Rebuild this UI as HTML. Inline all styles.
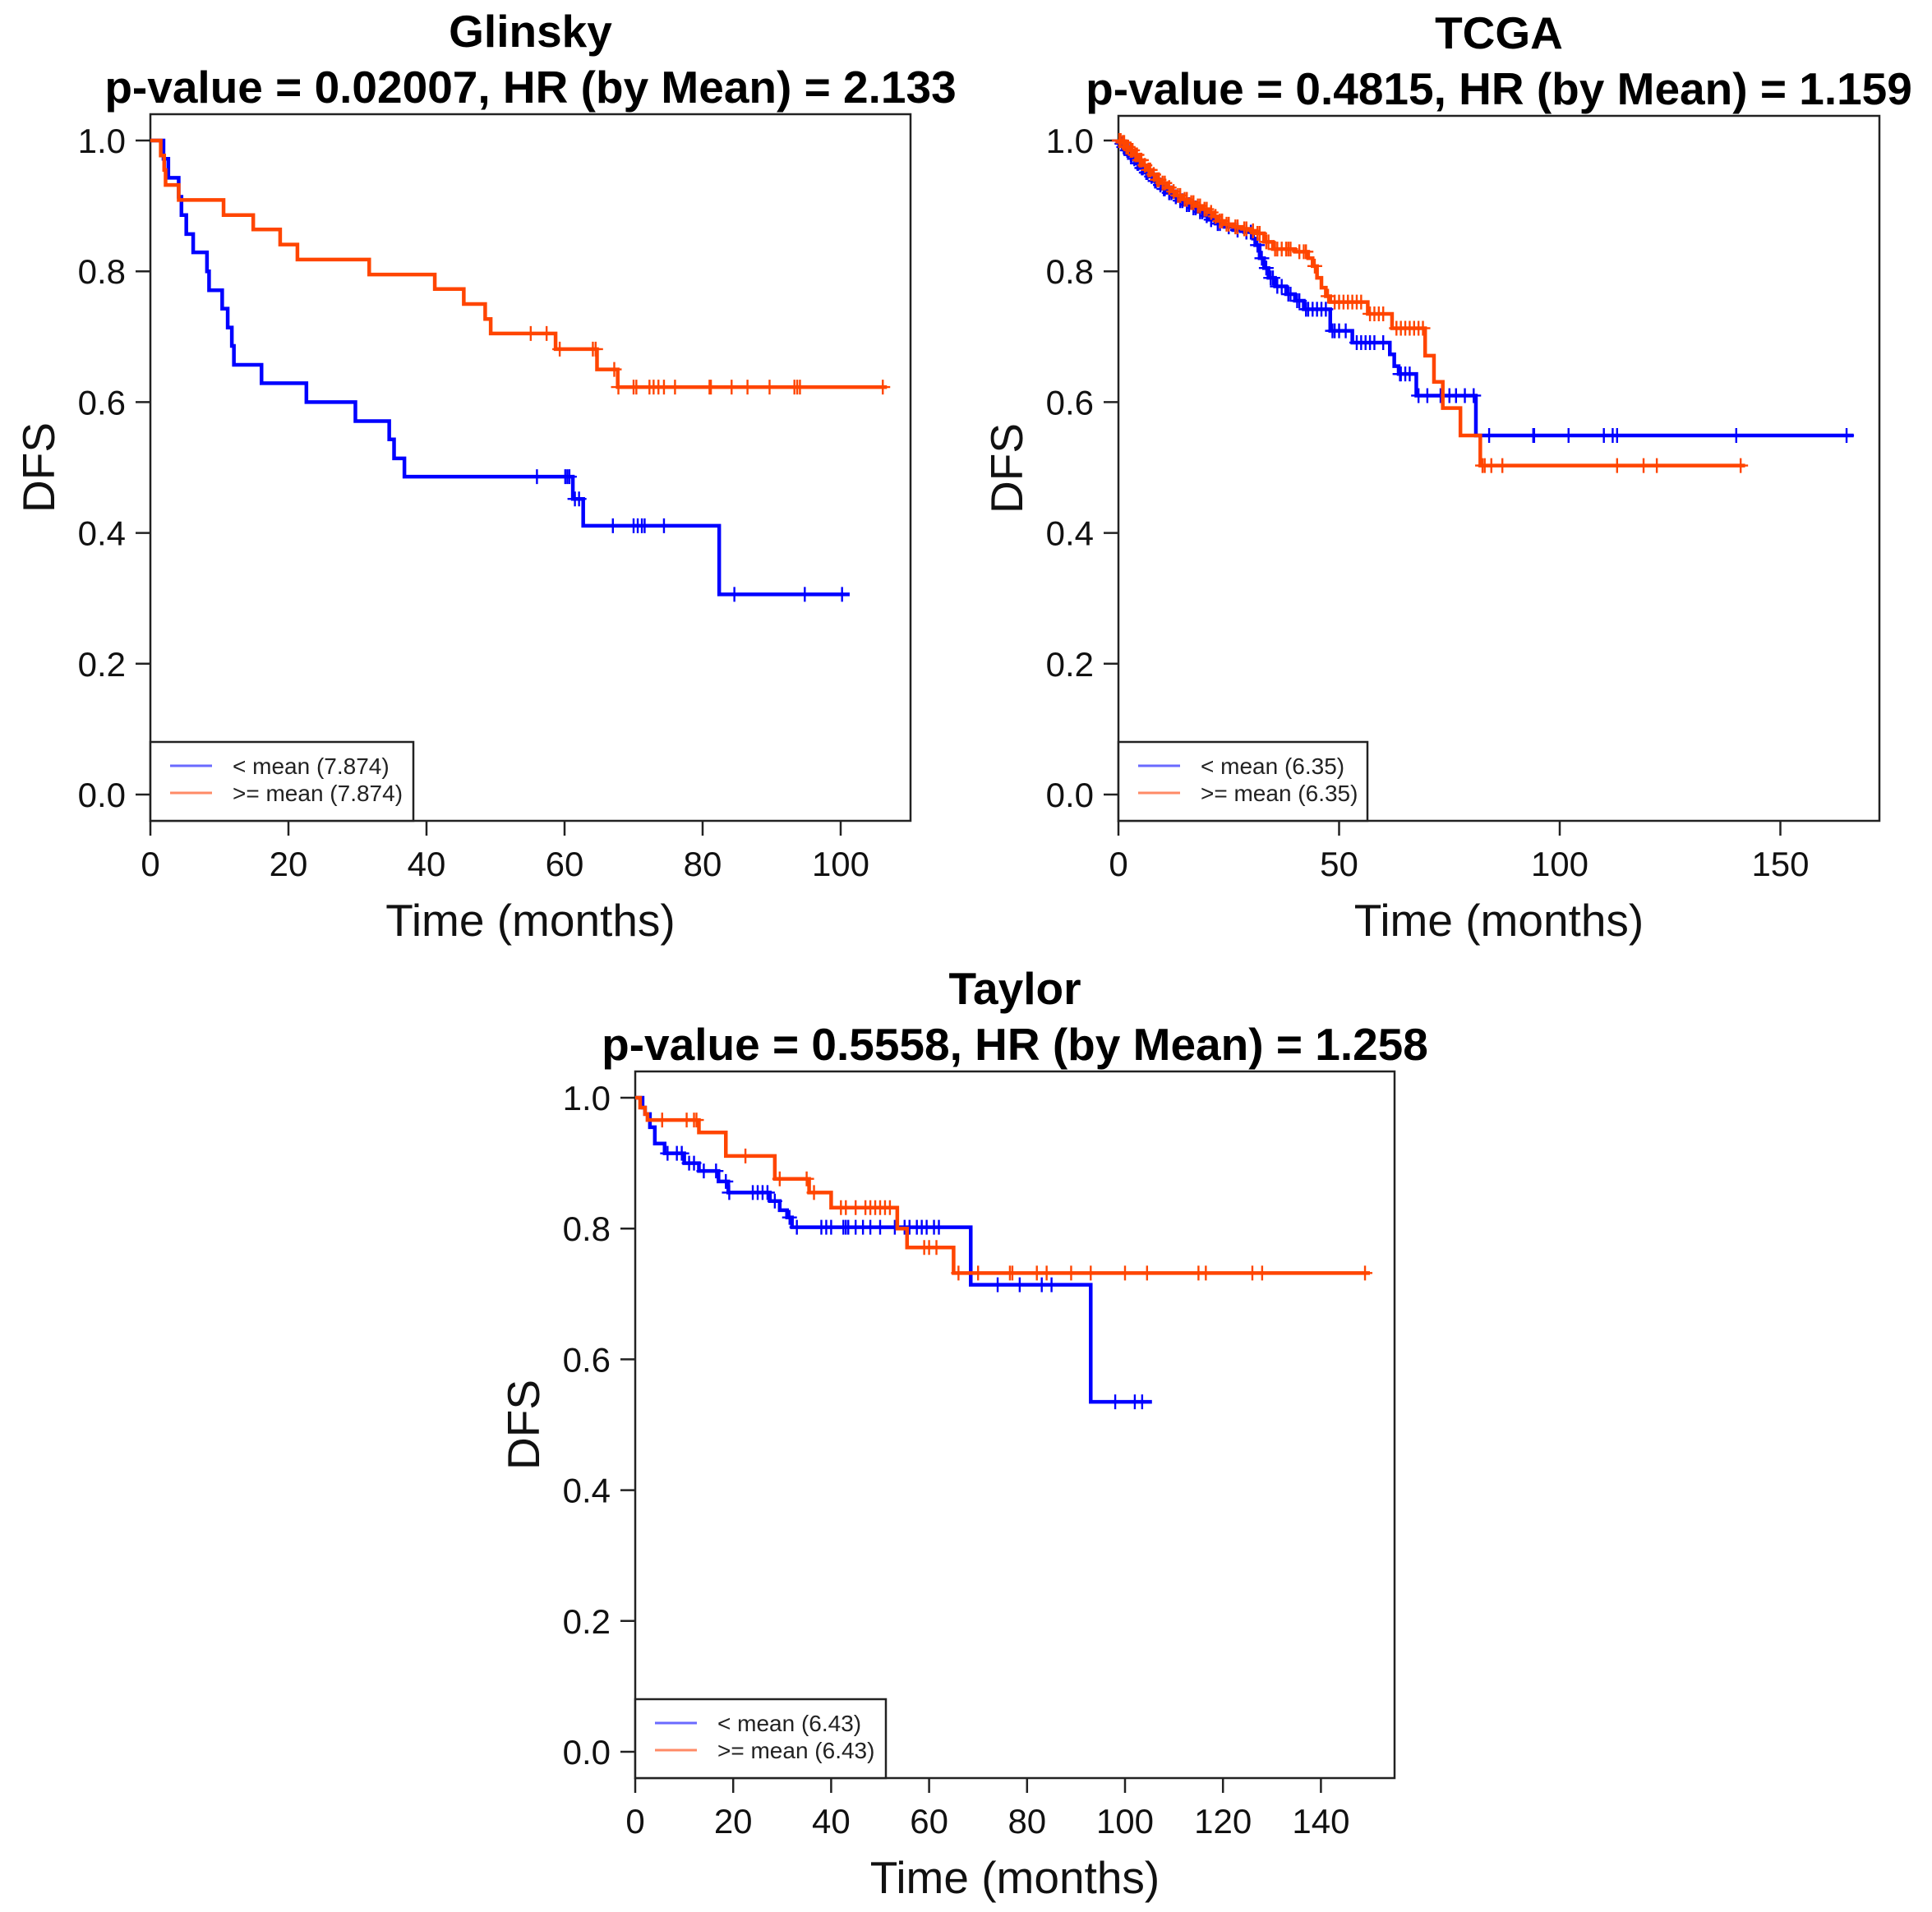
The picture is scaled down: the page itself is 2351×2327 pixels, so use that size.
<!DOCTYPE html>
<html><head><meta charset="utf-8"><style>
html,body{margin:0;padding:0;background:#fff;}
svg{display:block;font-family:"Liberation Sans",Arial,sans-serif;}
</style></head><body>
<svg id="fig" width="2351" height="2327" viewBox="0 0 2351 2327" xmlns="http://www.w3.org/2000/svg"></svg>
<script>
// ---------- Glinsky ----------
const glBlueT = [1.9,2.6,4.1,4.5,5.2,6.2,8.2,8.5,10.4,11.2,11.8,12.1,16.1,22.6,29.7,34.6,35.3,36.8,61.2,62.7,82.4];
const glBlueS = [0.972,0.943,0.914,0.886,0.857,0.829,0.800,0.771,0.743,0.714,0.686,0.657,0.629,0.600,0.571,0.543,0.514,0.486,0.452,0.411,0.306];
const glBlueC = [56,60.1,60.4,60.7,61.5,62.1,67,70,70.6,71.2,71.6,74.4,84.6,94.8,100.2];
const glBlueEnd = 101.3;
const glOrT = [1.5,2.0,2.2,4.1,10.6,14.9,18.8,21.3,31.7,41.2,45.4,48.5,49.3,58.7,64.7,67.7];
const glOrS = [0.977,0.955,0.932,0.909,0.886,0.864,0.841,0.818,0.795,0.773,0.750,0.727,0.705,0.681,0.650,0.623];
const glOrC = [55.1,57.4,59.3,64.1,64.5,67.2,67.8,70,70.4,72.3,72.9,73.6,74.4,76,81,81.2,84.2,86.5,89.7,93.3,93.7,94.1,106.1];
const glOrEnd = 106.7;
// ---------- TCGA ----------
const tcBlueT = [0.5,1,1.8,2.5,3.2,4,5,6,7,8,9.2,10,11,12.5,13.5,15,16.5,18,19.5,20.5,22,24,26,28.5,30.5,31,32,33,34,35.5,38,40,42,48,53,61.5,62.5,63.5,67.5,81];
const tcBlueS = [0.995,0.99,0.985,0.978,0.972,0.965,0.958,0.951,0.945,0.938,0.932,0.926,0.92,0.914,0.908,0.902,0.897,0.891,0.885,0.879,0.873,0.868,0.863,0.86,0.85,0.84,0.82,0.805,0.79,0.777,0.765,0.755,0.742,0.709,0.691,0.673,0.655,0.643,0.61,0.549];
const tcBlueC = [0.3,0.8,1.2,1.6,2,2.3,2.8,3,3.6,4.3,4.5,5.3,5.5,6.3,6.6,7.5,8.3,8.5,9.5,10.3,10.5,11.5,12,13,14,14.5,15.5,16,17,17.5,18.5,19,20,21,22.5,23,25,27,29,30,31.5,32.5,33.5,34.5,35,36,37,38.5,39,40.5,41,42.5,43,44,45,46,47,48.5,49,50,51.5,54,55,56,57,58,60,63.8,64,65,66,68,70,73,75,76.5,78.5,80.5,84,94,94.2,102,110,112,113,140,165];
const tcBlueEnd = 166.6;
const tcOrT = [0.8,1.5,2.5,3.5,4.5,5.5,6.5,7.5,8.5,9.5,11,12,13,14.5,16,17.5,19,20.5,21.5,22.5,24,26,28,30,31,33,35,40,43,44,45,46,47,48,56.5,62,69.5,71.5,73.5,77.5,82];
const tcOrS = [0.997,0.99,0.985,0.978,0.97,0.962,0.955,0.948,0.94,0.935,0.928,0.922,0.916,0.91,0.905,0.9,0.895,0.89,0.884,0.877,0.872,0.868,0.865,0.862,0.858,0.845,0.834,0.83,0.82,0.808,0.79,0.775,0.762,0.753,0.735,0.713,0.671,0.631,0.591,0.549,0.503];
const tcOrC = [0.2,0.5,1,1.3,1.8,2.2,2.8,3.2,3.8,4.2,4.8,5.2,6,6.8,7.2,8,8.8,9.2,10,10.5,11.5,12.5,13.5,14,15,15.5,16.5,17,18,18.5,19.5,20,21,22,23,23.5,24.5,25,26.5,27,28.5,29,30.5,31.5,32,33.5,34,35.5,36,37,38,38.5,39,41,42,42.5,44.5,47.5,49,50,51,52,53,54,55,57,58,59,60,63,64,65,66,67,68,69,82.5,83,84.5,87,113,119,122,141];
const tcOrEnd = 142;
// ---------- Taylor ----------
const tyBlueT = [1.5,2,3,4,6,10,13,17,19,27.5,29.5,31,32,68.5,93];
const tyBlueS = [0.985,0.975,0.955,0.93,0.915,0.90,0.888,0.872,0.855,0.842,0.828,0.817,0.802,0.714,0.535];
const tyBlueC = [6.6,8.5,9.5,11,12,14,16.5,18.5,19.2,24,25,26,27,28.5,31.5,33,38,39,40,42.5,43,43.5,45,46.5,48,50,53,55,56,57.5,58.5,59.5,61,62,74,78.5,83,85,98,102,103.5];
const tyBlueEnd = 105.5;
const tyOrT = [1,2,2.5,13,18.5,28.5,35.5,40,53.5,55.5,65];
const tyOrS = [0.985,0.975,0.966,0.947,0.911,0.876,0.855,0.832,0.80,0.771,0.732];
const tyOrC = [5.5,10.5,12,12.5,22.5,29.5,35,36.5,42,43,45,47,48,49,50,51,52,59,60,61.5,66,70,76.5,77,82,84,89,93,100,104.5,115,116.5,126,128,149];
const tyOrEnd = 150;

const xTicksGl = [0,20,40,60,80,100];
const xTicksTc = [0,50,100,150];
const xTicksTy = [0,20,40,60,80,100,120,140];
const yTicks = [0.0,0.2,0.4,0.6,0.8,1.0];
const yTickLabels = ["0.0","0.2","0.4","0.6","0.8","1.0"];

const NS = "http://www.w3.org/2000/svg";
const svg = document.getElementById('fig');
function mk(tag, attrs, parent){const e=document.createElementNS(NS,tag);for(const k in attrs)e.setAttribute(k,attrs[k]);(parent||svg).appendChild(e);return e;}

function survAt(T,S,t){let s=1;for(let i=0;i<T.length;i++){if(T[i]<=t)s=S[i];}return s;}

function panel(cfg){
  const g = mk('g',{});
  
  
  const X = t => cfg.x0 + t*cfg.kx;
  const Y = s => cfg.y0 - s*(cfg.y0-cfg.y1);
  const cx = (cfg.left+cfg.right)/2;
  const t1 = mk('text',{x:cx,y:cfg.top-82,'text-anchor':'middle','font-size':55,'font-weight':'bold'},g);
  t1.textContent = cfg.name;
  
  
  const t2 = mk('text',{x:cx,y:cfg.top-14,'text-anchor':'middle','font-size':55,'font-weight':'bold'},g);
  t2.textContent = cfg.sub;
  
  
  const box = mk('rect',{x:cfg.left,y:cfg.top,width:cfg.right-cfg.left,height:cfg.bottom-cfg.top,fill:'none',stroke:'#222','stroke-width':2.5},g);
  
  
  yTicks.forEach((v,i)=>{
    const l = mk('line',{x1:cfg.left-18,x2:cfg.left,y1:Y(v),y2:Y(v),stroke:'#222','stroke-width':2.5},g);
    
    
    const tx = mk('text',{x:cfg.left-30,y:Y(v)+15,'text-anchor':'end','font-size':42,fill:'#111'},g);
    tx.textContent = yTickLabels[i];
    
    
  });
  cfg.xt.forEach(v=>{
    const l = mk('line',{x1:X(v),x2:X(v),y1:cfg.bottom,y2:cfg.bottom+18,stroke:'#222','stroke-width':2.5},g);
    
    
    const tx = mk('text',{x:X(v),y:cfg.bottom+67,'text-anchor':'middle','font-size':42,fill:'#111'},g);
    tx.textContent = String(v);
    
    
  });
  const xl = mk('text',{x:cx,y:cfg.bottom+140,'text-anchor':'middle','font-size':55,fill:'#111'},g);
  xl.textContent = 'Time (months)';
  
  
  const ym = (cfg.top+cfg.bottom)/2;
  const yl = mk('text',{x:0,y:0,'text-anchor':'middle','font-size':55,fill:'#111',transform:`translate(${cfg.left-117},${ym}) rotate(-90)`},g);
  yl.textContent = 'DFS';
  
  
  cfg.series.forEach(sr=>{
    let d = `M${X(0)},${Y(1)}`;
    for(let i=0;i<sr.T.length;i++){d+=` H${X(sr.T[i])} V${Y(sr.S[i])}`;}
    d+=` H${X(sr.end)}`;
    const p = mk('path',{d:d,fill:'none',stroke:sr.col,'stroke-width':4.5},g);
    
    
    sr.C.forEach(t=>{
      const cxp=X(t), cyp=Y(survAt(sr.T,sr.S,t));
      const c = mk('path',{d:`M${cxp},${cyp-9} V${cyp+9} M${cxp-9},${cyp} H${cxp+9}`,stroke:sr.col,'stroke-width':2.4,fill:'none'},g);
      
      
    });
  });
  const lg = mk('g',{},g);
  
  
  mk('rect',{x:cfg.left,y:cfg.bottom-96,width:cfg.legW,height:96,fill:'#fff',stroke:'#222','stroke-width':2.5},lg);
  const ent=[['< mean ('+cfg.mean+')','#6a6aff',29],['>= mean ('+cfg.mean+')','#ff8a66',62]];
  ent.forEach(e=>{
    const y=cfg.bottom-96+e[2];
    mk('line',{x1:cfg.left+24,x2:cfg.left+75,y1:y,y2:y,stroke:e[1],'stroke-width':3},lg);
    const tx=mk('text',{x:cfg.left+100,y:y+10,'font-size':28,fill:'#222'},lg);
    tx.textContent=e[0];
    
    
  });
}

panel({id:'glinsky',name:'Glinsky',sub:'p-value = 0.02007, HR (by Mean) = 2.133',left:183,right:1108,top:139,bottom:999,x0:183,kx:8.4,y1:171,y0:967,xt:xTicksGl,legW:320,mean:'7.874',
  series:[{nm:'low',col:'#0000ff',T:glBlueT,S:glBlueS,C:glBlueC,end:glBlueEnd},{nm:'high',col:'#ff4500',T:glOrT,S:glOrS,C:glOrC,end:glOrEnd}]});
panel({id:'tcga',name:'TCGA',sub:'p-value = 0.4815, HR (by Mean) = 1.159',left:1361,right:2287,top:141,bottom:999,x0:1361,kx:5.37,y1:171,y0:967,xt:xTicksTc,legW:303,mean:'6.35',
  series:[{nm:'low',col:'#0000ff',T:tcBlueT,S:tcBlueS,C:tcBlueC,end:tcBlueEnd},{nm:'high',col:'#ff4500',T:tcOrT,S:tcOrS,C:tcOrC,end:tcOrEnd}]});
panel({id:'taylor',name:'Taylor',sub:'p-value = 0.5558, HR (by Mean) = 1.258',left:773,right:1697,top:1304,bottom:2164,x0:773,kx:5.96,y1:1336,y0:2132,xt:xTicksTy,legW:305,mean:'6.43',
  series:[{nm:'low',col:'#0000ff',T:tyBlueT,S:tyBlueS,C:tyBlueC,end:tyBlueEnd},{nm:'high',col:'#ff4500',T:tyOrT,S:tyOrS,C:tyOrC,end:tyOrEnd}]});
</script>
</body></html>
